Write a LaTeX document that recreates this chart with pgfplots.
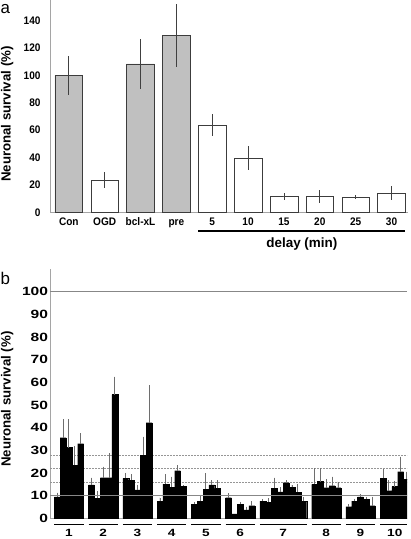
\documentclass[border=0pt]{standalone}
\usepackage{pgfplots}
\pgfplotsset{compat=1.18}
\usepackage{fontspec}
\setmainfont{Liberation Sans}
\newfontfamily\fa[FakeStretch=0.92]{Liberation Sans Bold}
\newfontfamily\fb[FakeStretch=1.3]{Liberation Sans Bold}
\definecolor{bargray}{RGB}{192,192,192}
\definecolor{edgegray}{RGB}{60,60,60}
\definecolor{axisgray}{RGB}{165,165,165}
\definecolor{refgray}{RGB}{135,135,135}
\definecolor{errgray}{RGB}{110,110,110}
\definecolor{dotgray}{RGB}{150,150,150}
\begin{document}
\begin{tikzpicture}[x=1bp,y=1bp]
\path[use as bounding box] (0,0) rectangle (410,539);
\node[anchor=base west, inner sep=0, font=\fontsize{17}{17}\selectfont] at (0.5,525.7) {a};
\node[anchor=base west, inner sep=0, font=\fontsize{17}{17}\selectfont] at (0.5,254) {b};

% ---------------- panel a ----------------
\begin{axis}[
  at={(50bp,326.7bp)}, anchor=south west, scale only axis,
  width=358bp, height=212.2bp,
  xmin=-0.525, xmax=9.46, ymin=0, ymax=155,
  axis lines*=left, axis line style={draw=axisgray, line width=0.8bp},
  major tick length=0pt,
  ytick={0,20,...,140},
  xtick={0,...,9}, xticklabels={Con,OGD,bcl-xL,pre,5,10,15,20,25,30},
  /pgf/number format/assume math mode=true,
  tick label style={font=\fa\fontsize{11}{13}\selectfont},
  yticklabel style={xshift=-6bp},
  xticklabel style={yshift=-1.5bp, text height=8bp, text depth=2bp},
  ylabel={Neuronal survival (\%)},
  ylabel style={font=\bfseries\fontsize{13.3}{15}\selectfont, at={([xshift=-42.7bp]rel axis cs:0,0.4626)}, anchor=center},
  clip=false,
]
\addplot[ybar, bar width=0.773, bar shift=0pt, fill=bargray, draw=edgegray, line width=0.6bp,
  error bars/.cd, y dir=both, y explicit, error mark=none,
  error bar style={draw=black!75, line width=0.8bp}]
  coordinates {(0,100) +- (0,14) (2,108.4) +- (0,18.3) (3,129.3) +- (0,23)};
\addplot[ybar, bar width=0.773, bar shift=0pt, fill=white, draw=edgegray, line width=0.6bp,
  error bars/.cd, y dir=both, y explicit, error mark=none,
  error bar style={draw=black!75, line width=0.8bp}]
  coordinates {(1,23.5) +- (0,6) (4,63.8) +- (0,8.3) (5,39.6) +- (0,8.6) (6,11.6) +- (0,2.7)
               (7,11.6) +- (0,4.7) (8,11) +- (0,1.6) (9,13.9) +- (0,5)};
\draw[line width=1.5bp] ([yshift=-18.7bp]axis cs:3.6135,0) -- ([yshift=-18.7bp]axis cs:9.3865,0);
\node[anchor=base, font=\bfseries\fontsize{13.5}{15}\selectfont] at ([yshift=-35bp]axis cs:6.5,0) {delay (min)};
\end{axis}

% ---------------- panel b ----------------
\begin{axis}[
  at={(50bp,20.7bp)}, anchor=south west, scale only axis,
  width=357bp, height=249.26bp,
  xmin=-0.735, xmax=60.29, ymin=0, ymax=110,
  axis lines*=left, axis line style={draw=axisgray, line width=0.8bp},
  major tick length=0pt,
  ytick={0,10,...,100},
  xtick={2.5,8.355,14.21,20.065,25.92,31.775,39.13,46.485,52.34,58.195},
  xticklabels={1,2,3,4,5,6,7,8,9,10},
  /pgf/number format/assume math mode=true,
  yticklabel style={font=\fb\fontsize{12}{14}\selectfont, xshift=1.5bp},
  xticklabel style={font=\fb\fontsize{10.5}{12}\selectfont, yshift=-7.5bp},
  ylabel={Neuronal survival (\%)},
  ylabel style={font=\bfseries\fontsize{13.3}{15}\selectfont, at={([xshift=-42.7bp]rel axis cs:0,0.478)}, anchor=center},
  clip mode=individual,
]
\addplot[draw=dotgray, line width=0.5bp, dash pattern=on 1.5bp off 1.5bp] coordinates {(-0.735,16) (60.29,16)};
\addplot[draw=dotgray, line width=0.5bp, dash pattern=on 1.5bp off 1.5bp] coordinates {(-0.735,22) (60.29,22)};
\addplot[draw=dotgray, line width=0.5bp, dash pattern=on 1.5bp off 1.5bp] coordinates {(-0.735,28) (60.29,28)};
\addplot[ybar, bar width=1, bar shift=0pt, fill=black, draw=black, line width=0.2bp,
  error bars/.cd, y dir=plus, y explicit, error mark=none,
  error bar style={draw=errgray, line width=0.9bp}]
  coordinates {
  (0.5,9.5) +- (0,1.8) (1.5,35.6) +- (0,8.2) (2.5,31.2) +- (0,12.6) (3.5,23.4) +- (0,8.5) (4.5,32.9) +- (0,4.6)
  (6.355,14.7) +- (0,3.2) (7.355,8.8) +- (0,3.2) (8.355,17.9) +- (0,4.9) (9.355,17.9) +- (0,10.8) (10.355,54.6) +- (0,7.9)
  (12.21,17.6) +- (0,2.5) (13.21,16.9) +- (0,2.6) (14.21,12.5) +- (0,2.2) (15.21,27.9) +- (0,8.1) (16.21,42.2) +- (0,16.6)
  (18.065,7.6) +- (0,1.5) (19.065,15.1) +- (0,4.4) (20.065,13.7) +- (0,4.7) (21.065,21) +- (0,2.5) (22.065,14.2) +- (0,0.3)
  (23.92,6.2) +- (0,1.1) (24.92,7.6) +- (0,2.7) (25.92,12.8) +- (0,7) (26.92,14.7) +- (0,2.2) (27.92,13.2) +- (0,3.7)
  (29.775,9.1) +- (0,1.9) (30.775,1.9) +- (0,0) (31.775,6.2) +- (0,1.1) (32.775,3.7) +- (0,1.4) (33.775,5.6) +- (0,2)
  (35.63,7.6) +- (0,0.8) (36.63,7.1) +- (0,1.7) (37.63,13.2) +- (0,4.7) (38.63,11.7) +- (0,2) (39.63,15.7) +- (0,1.2) (40.63,13.7) +- (0,1) (41.63,11.5) +- (0,3.5) (42.63,7.6) +- (0,1.9)
  (44.485,15) +- (0,7) (45.485,16.2) +- (0,5.8) (46.485,13.5) +- (0,3.7) (47.485,14.4) +- (0,4) (48.485,13.5) +- (0,2.7)
  (50.34,5.1) +- (0,1.2) (51.34,7.6) +- (0,1) (52.34,9.5) +- (0,1.1) (53.34,8.5) +- (0,0.8) (54.34,5.6) +- (0,3.9)
  (56.195,17.6) +- (0,4) (57.195,12.2) +- (0,4.7) (58.195,14) +- (0,2.5) (59.195,20.6) +- (0,6.6) (60.195,17.3) +- (0,3.3)
  };
\addplot[draw=refgray, line width=1.6bp] coordinates {(-0.735,10) (60.29,10)};
\addplot[draw=refgray, line width=1.6bp] coordinates {(-0.735,100) (60.29,100)};
\draw[line width=1.5bp] ([yshift=-6bp]axis cs:0,0) -- ([yshift=-6bp]axis cs:5,0);
\draw[line width=1.5bp] ([yshift=-6bp]axis cs:5.855,0) -- ([yshift=-6bp]axis cs:10.855,0);
\draw[line width=1.5bp] ([yshift=-6bp]axis cs:11.71,0) -- ([yshift=-6bp]axis cs:16.71,0);
\draw[line width=1.5bp] ([yshift=-6bp]axis cs:17.565,0) -- ([yshift=-6bp]axis cs:22.565,0);
\draw[line width=1.5bp] ([yshift=-6bp]axis cs:23.42,0) -- ([yshift=-6bp]axis cs:28.42,0);
\draw[line width=1.5bp] ([yshift=-6bp]axis cs:29.275,0) -- ([yshift=-6bp]axis cs:34.275,0);
\draw[line width=1.5bp] ([yshift=-6bp]axis cs:35.13,0) -- ([yshift=-6bp]axis cs:43.13,0);
\draw[line width=1.5bp] ([yshift=-6bp]axis cs:43.985,0) -- ([yshift=-6bp]axis cs:48.985,0);
\draw[line width=1.5bp] ([yshift=-6bp]axis cs:49.84,0) -- ([yshift=-6bp]axis cs:54.84,0);
\draw[line width=1.5bp] ([yshift=-6bp]axis cs:55.695,0) -- ([yshift=-6bp]axis cs:60.29,0);
\end{axis}
\end{tikzpicture}
\end{document}
